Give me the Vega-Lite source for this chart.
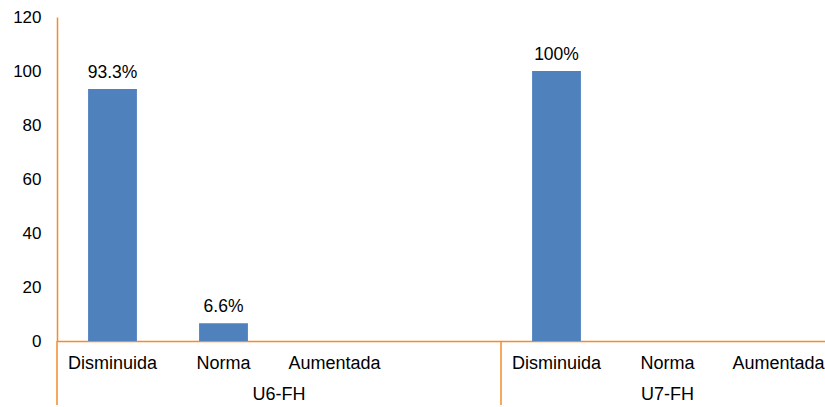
{
  "$schema": "https://vega.github.io/schema/vega-lite/v6.json",
  "width": 777,
  "height": 324,
  "padding": {"top": 8, "left": 12, "right": 0, "bottom": 0},
  "config": {
    "view": {"stroke": null},
    "font": "Liberation Sans",
    "text": {"font": "Liberation Sans", "fontSize": 17.5, "color": "#000000"}
  },
  "datasets": {
    "bars": [
      {"key": "U6-FH|Disminuida", "grupo": "U6-FH", "nivel": "Disminuida", "valor": 93.3, "etiqueta": "93.3%"},
      {"key": "U6-FH|Norma", "grupo": "U6-FH", "nivel": "Norma", "valor": 6.6, "etiqueta": "6.6%"},
      {"key": "U6-FH|Aumentada", "grupo": "U6-FH", "nivel": "Aumentada", "valor": 0, "etiqueta": ""},
      {"key": "U7-FH|Disminuida", "grupo": "U7-FH", "nivel": "Disminuida", "valor": 100, "etiqueta": "100%"},
      {"key": "U7-FH|Norma", "grupo": "U7-FH", "nivel": "Norma", "valor": 0, "etiqueta": ""},
      {"key": "U7-FH|Aumentada", "grupo": "U7-FH", "nivel": "Aumentada", "valor": 0, "etiqueta": ""}
    ],
    "grupos": [
      {"grupo": "U6-FH", "ancla": "U6-FH|Norma"},
      {"grupo": "U7-FH", "ancla": "U7-FH|Norma"}
    ],
    "separadores": [
      {"inicio": "U6-FH|Disminuida", "y0": 0, "y1": -23.7},
      {"inicio": "U7-FH|Disminuida", "y0": 0, "y1": -23.7}
    ]
  },
  "data": {"name": "bars"},
  "encoding": {
    "x": {
      "field": "key",
      "type": "nominal",
      "sort": null,
      "scale": {
        "domain": ["U6-FH|Disminuida", "U6-FH|Norma", "U6-FH|Aumentada", "U6-FH| ", "U7-FH|Disminuida", "U7-FH|Norma", "U7-FH|Aumentada"],
        "paddingInner": 0,
        "paddingOuter": 0
      },
      "axis": {
        "title": null,
        "labelAngle": 0,
        "labelExpr": "split(datum.value, '|')[1]",
        "labelFont": "Liberation Sans",
        "labelFontSize": 18,
        "labelColor": "#000000",
        "labelBaseline": "alphabetic",
        "labelPadding": 27,
        "labelOverlap": false,
        "labelBound": false,
        "domainColor": "#F58B2A",
        "domainWidth": 1.5,
        "ticks": false
      }
    }
  },
  "layer": [
    {
      "mark": {"type": "bar", "color": "#4F81BD", "width": {"band": 0.44}},
      "encoding": {
        "y": {
          "field": "valor",
          "type": "quantitative",
          "scale": {"domain": [0, 120], "nice": false},
          "axis": {
            "title": null,
            "values": [0, 20, 40, 60, 80, 100, 120],
            "grid": false,
            "ticks": false,
            "labelPadding": 16,
            "labelFont": "Liberation Sans",
            "labelFontSize": 17,
            "labelColor": "#000000",
            "domainColor": "#F58B2A",
            "domainWidth": 1.5
          }
        }
      }
    },
    {
      "transform": [{"filter": "datum.valor > 0"}],
      "mark": {"type": "text", "baseline": "alphabetic", "dy": -11},
      "encoding": {
        "y": {"field": "valor", "type": "quantitative"},
        "text": {"field": "etiqueta"}
      }
    },
    {
      "data": {"name": "separadores"},
      "mark": {"type": "rule", "color": "#F58B2A", "strokeWidth": 1.5},
      "encoding": {
        "x": {"field": "inicio", "type": "nominal", "bandPosition": 0},
        "y": {"field": "y0", "type": "quantitative"},
        "y2": {"field": "y1"}
      }
    },
    {
      "data": {"name": "grupos"},
      "transform": [{"filter": "datum.grupo == 'U6-FH'"}],
      "mark": {"type": "text", "baseline": "alphabetic", "dy": 59, "fontSize": 18},
      "encoding": {
        "x": {"field": "ancla", "type": "nominal", "bandPosition": 1},
        "y": {"datum": 0},
        "text": {"field": "grupo"}
      }
    },
    {
      "data": {"name": "grupos"},
      "transform": [{"filter": "datum.grupo == 'U7-FH'"}],
      "mark": {"type": "text", "baseline": "alphabetic", "dy": 59, "fontSize": 18},
      "encoding": {
        "x": {"field": "ancla", "type": "nominal", "bandPosition": 0.5},
        "y": {"datum": 0},
        "text": {"field": "grupo"}
      }
    }
  ]
}
